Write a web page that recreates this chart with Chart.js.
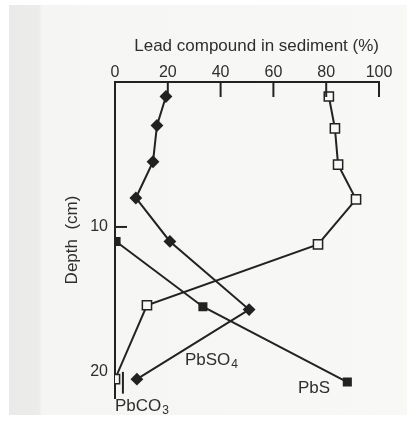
<!DOCTYPE html>
<html>
<head>
<meta charset="utf-8">
<script src="https://cdn.jsdelivr.net/npm/chart.js@4.4.1/dist/chart.umd.min.js"></script>
<style>
    html, body { margin: 0; padding: 0; background: #ffffff; }
    #page {
        position: absolute; left: 9px; top: 5px; width: 398px; height: 410px;
        background: linear-gradient(to right, #eaeae9 0, #ececeb 30px, #f5f5f4 33px, #f8f8f7 100%);
    }
    #wrap { position: absolute; left: 0; top: 0; width: 407px; height: 423px; }
</style>
</head>
<body>
<div id="page"></div>
<div id="wrap"><canvas id="chart" width="407" height="423"></canvas></div>
<script>
// Profils de plomb dans le sédiment : % du composé en fonction de la profondeur (cm).
var depthSO4 = [1, 3, 5.5, 8, 11, 15.7, 20.5];
var pbso4    = [19.3, 15.9, 14.4, 7.9, 20.8, 50.8, 8.3];

var depthS = [11, 15.5, 20.7];
var pbs    = [0.4, 33.3, 88];

var depthCO3 = [1, 3.2, 5.7, 8.1, 11.2, 15.4, 20.5];
var pbco3    = [81, 83.3, 84.5, 91.3, 76.9, 12.1, 0];

var xTicks = [0, 20, 40, 60, 80, 100];
var yTicks = [10, 20];

var INK = '#222222';
var TXT = '#2e2e2e';
var FONT = "'Liberation Sans', Arial, sans-serif";

function points(xs, ys) {
    return xs.map(function (v, i) { return { x: v, y: ys[i] }; });
}

// Étiquettes posées dans le repère des données (x en %, y en cm).
var seriesLabels = [
    { text: 'PbSO', sub: '4', x: 26.5, y: 19.2 },
    { text: 'PbS',  sub: '',  x: 69.3, y: 21.1 },
    { text: 'PbCO', sub: '3', x: 0,    y: 22.4 }
];

// Graduations intérieures + étiquettes des courbes.
var extras = {
    id: 'extras',
    afterDatasetsDraw: function (chart) {
        var ctx = chart.ctx, xs = chart.scales.x, ys = chart.scales.y;
        var a = chart.chartArea;
        ctx.save();
        ctx.strokeStyle = INK;
        ctx.lineWidth = 2;
        xTicks.forEach(function (t) {
            if (t === 0) { return; }
            var px = xs.getPixelForValue(t);
            ctx.beginPath(); ctx.moveTo(px, a.top); ctx.lineTo(px, a.top + 15); ctx.stroke();
        });
        var py = ys.getPixelForValue(10);
        ctx.beginPath(); ctx.moveTo(a.left, py); ctx.lineTo(a.left + 12, py); ctx.stroke();

        // petit trait repère du PbCO3
        var lx = xs.getPixelForValue(3);
        ctx.beginPath(); ctx.moveTo(lx, ys.getPixelForValue(20)); ctx.lineTo(lx, ys.getPixelForValue(21.5)); ctx.stroke();

        ctx.fillStyle = TXT;
        ctx.textBaseline = 'middle';
        seriesLabels.forEach(function (l) {
            var x = xs.getPixelForValue(l.x), y = ys.getPixelForValue(l.y);
            ctx.font = '17px ' + FONT;
            ctx.fillText(l.text, x, y);
            if (l.sub) {
                var w = ctx.measureText(l.text).width;
                ctx.font = '12px ' + FONT;
                ctx.fillText(l.sub, x + w + 1, y + 4);
            }
        });
        ctx.restore();
    }
};

new Chart(document.getElementById('chart'), {
    type: 'scatter',
    data: {
        datasets: [
            {
                label: 'PbSO4',
                data: points(pbso4, depthSO4),
                showLine: true,
                borderColor: INK, borderWidth: 2,
                pointStyle: 'rectRot', pointRadius: 5,
                pointBackgroundColor: INK, pointBorderColor: INK
            },
            {
                label: 'PbS',
                data: points(pbs, depthS),
                showLine: true,
                borderColor: INK, borderWidth: 2,
                pointStyle: 'rect', pointRadius: 5,
                pointBackgroundColor: INK, pointBorderColor: INK
            },
            {
                label: 'PbCO3',
                data: points(pbco3, depthCO3),
                showLine: true,
                borderColor: INK, borderWidth: 2,
                pointStyle: 'rect', pointRadius: 6.5, pointBorderWidth: 1.5,
                pointBackgroundColor: '#f8f8f8', pointBorderColor: INK
            }
        ]
    },
    options: {
        responsive: false,
        animation: false,
        layout: { padding: { left: 0, top: 0, right: 28, bottom: 25 } },
        plugins: { legend: { display: false }, tooltip: { enabled: false } },
        scales: {
            x: {
                type: 'linear',
                position: 'top',
                min: 0, max: 100,
                afterBuildTicks: function (s) { s.ticks = xTicks.map(function (v) { return { value: v }; }); },
                afterFit: function (s) { s.height = 82; },
                grid: { display: false, drawTicks: false },
                border: { display: true, color: INK, width: 2 },
                ticks: { color: TXT, padding: 0, font: { family: FONT, size: 16 } },
                title: {
                    display: true, text: 'Lead compound in sediment (%)', align: 'end',
                    color: TXT, padding: { top: 36, bottom: 0 },
                    font: { family: FONT, size: 17 }
                }
            },
            y: {
                type: 'linear',
                reverse: true,
                min: 0, max: 21.8,
                afterBuildTicks: function (s) { s.ticks = yTicks.map(function (v) { return { value: v }; }); },
                afterFit: function (s) { s.width = 115; },
                grid: { display: false, drawTicks: false },
                border: { display: true, color: INK, width: 2 },
                ticks: { color: TXT, padding: 7, font: { family: FONT, size: 16 } },
                title: {
                    display: true, text: 'Depth  (cm)',
                    color: TXT, padding: { top: 62, bottom: 0 },
                    font: { family: FONT, size: 17 }
                }
            }
        }
    },
    plugins: [extras]
});
</script>
</body>
</html>
